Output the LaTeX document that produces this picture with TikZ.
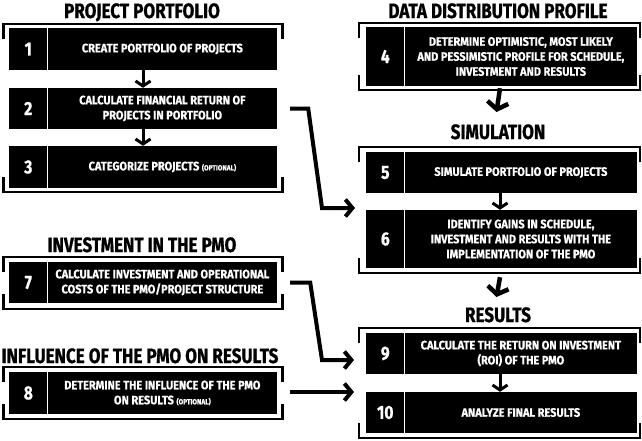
\documentclass[tikz,border=0pt]{standalone}
\usepackage{fontspec}
\setmainfont{Fira Sans}
\newfontfamily\hf[FakeStretch=0.82,FakeBold=0.8]{Fira Sans}
\newfontfamily\boxfont[FakeStretch=0.9,FakeBold=0.6]{Fira Sans}
\usetikzlibrary{arrows.meta,calc}
\newcommand\mybracket[4]{%
  \draw[brkline] (#1,#3+15) -- (#1,#3) -- (#2,#3) -- (#2,#3+15);
  \draw[brkline] (#1,#4-15) -- (#1,#4) -- (#2,#4) -- (#2,#4-15);}
\begin{document}
\begin{tikzpicture}[x=1pt,y=-1pt,
  boxL/.style={fill=black, draw=none, inner sep=0pt, minimum width=268pt},
  boxR/.style={fill=black, draw=none, inner sep=0pt, minimum width=271pt},
  numtxt/.style={text=white, inner sep=0pt, font=\hf\bfseries\fontsize{19}{20}\selectfont},
  txt/.style={text=white, inner sep=0pt, align=center, font=\boxfont\bfseries\fontsize{12.2}{15}\selectfont},
  head/.style={text=black, inner sep=0pt, anchor=base, font=\hf\bfseries\fontsize{20.8}{24}\selectfont},
  sepline/.style={draw=white, line width=1.5pt},
  brkline/.style={draw=black, line width=2.8pt},
  conn/.style={draw=black, line width=4pt, -{Straight Barb[length=7pt,width=17pt]}},
  sarrow/.style={draw=black, line width=3pt, -{Straight Barb[length=5pt,width=15pt]}},
  barrow/.style={draw=black, line width=4.5pt, -{Straight Barb[length=7pt,width=21pt]}},
]
\useasboundingbox (0,0) rectangle (642,440);
\fill[white] (0,0) rectangle (642,440);
\newcommand\opt{{\fontsize{7.3}{8}\selectfont (OPTIONAL)}}

% headings
\node[head] (h1) at (142,18) {PROJECT PORTFOLIO};
\node[head] (h2) at (498,18) {DATA DISTRIBUTION PROFILE};
\node[head] (h3) at (498,139) {SIMULATION};
\node[head] (h4) at (142,252) {INVESTMENT IN THE PMO};
\node[head] (h5) at (140,363) {INFLUENCE OF THE PMO ON RESULTS};
\node[head] (h6) at (498,322) {RESULTS};

% brackets
\mybracket{3.5}{282.5}{24}{192}
\mybracket{3.5}{282.5}{257}{309}
\mybracket{3.5}{282.5}{367}{419}
\mybracket{359}{640}{23}{90}
\mybracket{359}{640}{147}{273}
\mybracket{359}{640}{328}{438}

% left boxes
\node[boxL, minimum height=42pt] (b1) at (143,49) {};
\node[boxL, minimum height=41pt] (b2) at (143,108.5) {};
\node[boxL, minimum height=42pt] (b3) at (143,167) {};
\node[boxL, minimum height=41pt] (b7) at (143,282.5) {};
\node[boxL, minimum height=42pt] (b8) at (143,393) {};
% right boxes
\node[boxR, minimum height=59pt] (b4) at (501.5,56.5) {};
\node[boxR, minimum height=41pt] (b5) at (501.5,172.5) {};
\node[boxR, minimum height=58pt] (b6) at (501.5,239) {};
\node[boxR, minimum height=41pt] (b9) at (501.5,353.5) {};
\node[boxR, minimum height=41pt] (b10) at (501.5,412.5) {};

\foreach \b/\n/\t in {
  b1/1/{CREATE PORTFOLIO OF PROJECTS},
  b2/2/{CALCULATE FINANCIAL RETURN OF\\PROJECTS IN PORTFOLIO},
  b3/3/{CATEGORIZE PROJECTS \opt},
  b7/7/{CALCULATE INVESTMENT AND OPERATIONAL\\COSTS OF THE PMO/PROJECT STRUCTURE},
  b8/8/{DETERMINE THE INFLUENCE OF THE PMO\\ON RESULTS \opt},
  b4/4/{DETERMINE OPTIMISTIC, MOST LIKELY\\AND PESSIMISTIC PROFILE FOR SCHEDULE,\\INVESTMENT AND RESULTS},
  b5/5/{SIMULATE PORTFOLIO OF PROJECTS},
  b6/6/{IDENTIFY GAINS IN SCHEDULE,\\INVESTMENT AND RESULTS WITH THE\\IMPLEMENTATION OF THE PMO},
  b9/9/{CALCULATE THE RETURN ON INVESTMENT\\(ROI) OF THE PMO},
  b10/10/{ANALYZE FINAL RESULTS}}{
  \draw[sepline] ([xshift=38.75pt]\b.north west) -- ([xshift=38.75pt]\b.south west);
  \node[numtxt] (n-\b) at ([xshift=19.5pt]\b.west) {\n};
  \node[txt] (t-\b) at ($([xshift=38.75pt]\b.west)!0.5!(\b.east)$) {\t};
}

% vertical arrows
\draw[sarrow] (b1.south) -- (b2.north);
\draw[sarrow] (b2.south) -- (b3.north);
\draw[sarrow] ([xshift=-1.5pt]b5.south) -- ([xshift=-1.5pt]b6.north);
\draw[sarrow] ([xshift=-1.5pt]b9.south) -- ([xshift=-1.5pt]b10.north);
\draw[barrow] ([xshift=-1.5pt,yshift=-2pt]b4.south) -- ([xshift=-1.5pt]h3.north |- 0,112);
\draw[barrow] ([xshift=-1.5pt,yshift=-9pt]b6.south) -- ([xshift=-1.5pt]h6.north |- 0,297);

% connectors
\coordinate (e6) at (355,208);
\coordinate (e9) at (354,360);
\coordinate (e10) at (354,392);
\draw[conn] ([xshift=13pt]b2.east) -- ++(18,0) -- (322,208) -- (e6);
\draw[conn] ([xshift=13pt]b7.east) -- ++(20,0) -- (322,360) -- (e9);
\draw[conn] ([xshift=13pt,yshift=1pt]b8.east) -- (e10);
\end{tikzpicture}
\end{document}
